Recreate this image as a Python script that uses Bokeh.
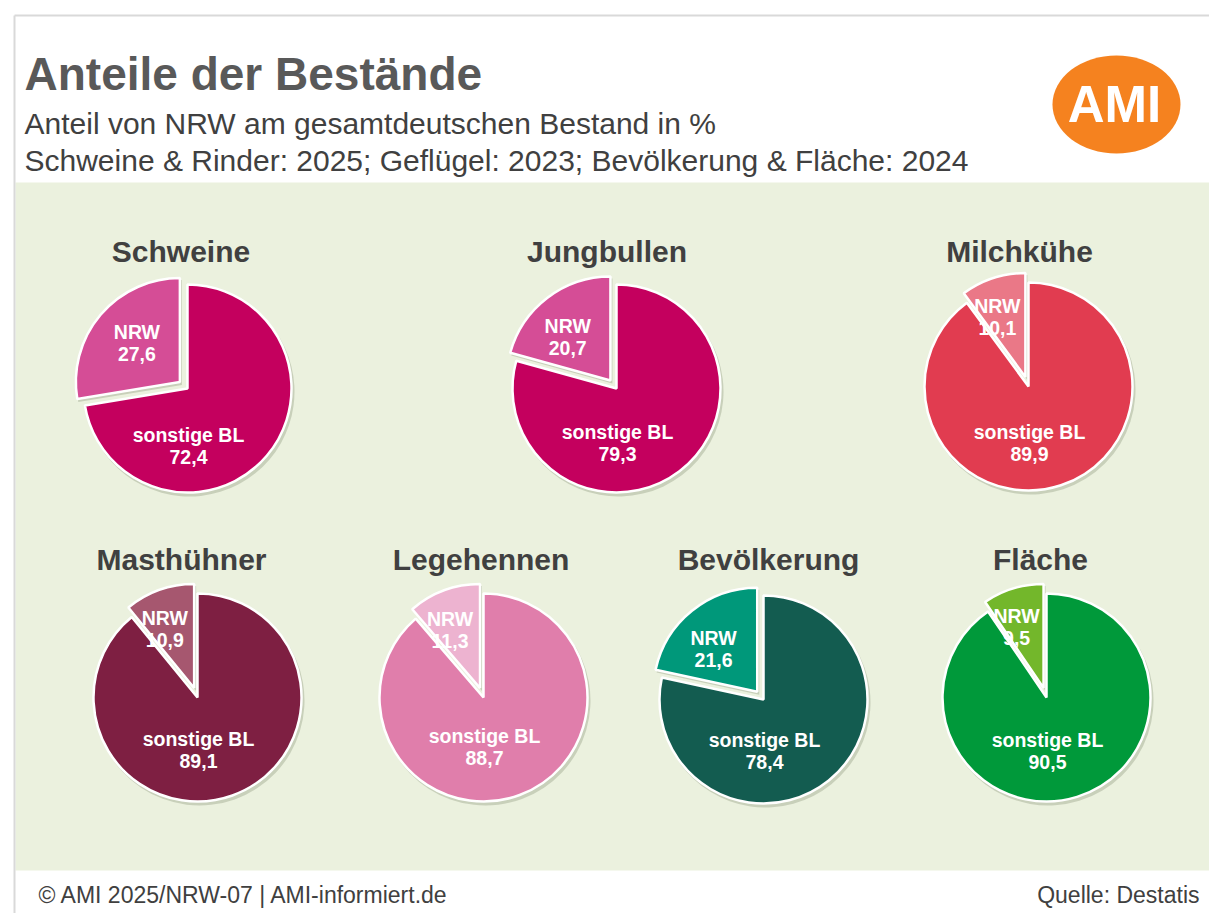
import math
from bokeh.plotting import figure
from bokeh.models import Range1d, ColumnDataSource, BoxAnnotation
from bokeh.core.properties import value
from bokeh.embed import file_html
from bokeh.resources import INLINE

# ---------------- data ----------------
categories = ["Schweine", "Jungbullen", "Milchkühe", "Masthühner", "Legehennen", "Bevölkerung", "Fläche"]
nrw_share = [27.6, 20.7, 10.1, 10.9, 11.3, 21.6, 9.5]
rest_share = [72.4, 79.3, 89.9, 89.1, 88.7, 78.4, 90.5]
slice_names = ["NRW", "sonstige BL"]

# ---------------- layout / style ----------------
W, H = 1209, 913
def sx(X):
    return X
def sy(Y):
    return H - Y

pie_cx = [187, 616, 1028, 197, 483, 763, 1046]
pie_cy = [388, 388, 386, 697, 697, 699, 697]
title_x = [180.5, 606.5, 1019, 181, 480.5, 768, 1040]
title_y = [251, 251, 251, 559, 559, 559, 559]
rest_lab_dy = [46, 43, 45, 41, 38, 40, 42]
radius = 104
explode = 10

main_colors = ["#C4005E", "#C4005E", "#E13C50", "#7E1F42", "#E07EAB", "#135C50", "#00993A"]
nrw_colors = ["#D54D96", "#D54D96", "#EA7887", "#A6576F", "#EDB3D0", "#00987A", "#73B72B"]

FONT = value("Liberation Sans")
TXT = "#404040"

p = figure(width=W, height=H, x_range=Range1d(0, W), y_range=Range1d(0, H),
           toolbar_location=None, output_backend="svg", min_border=0,
           background_fill_color="white", border_fill_color="white",
           outline_line_color=None)
p.axis.visible = False
p.grid.visible = False

# background panel
p.add_layout(BoxAnnotation(left=sx(15), right=sx(1209), top=sy(182), bottom=sy(870),
                           fill_color="#EBF1DE", fill_alpha=1, line_color=None, level="underlay"))
# frame lines
p.line(x=[sx(14), sx(1209)], y=[sy(15), sy(15)], line_color="#D9D9D9", line_width=2)
p.line(x=[sx(14), sx(14)], y=[sy(15), sy(913)], line_color="#D9D9D9", line_width=2)

# header
p.text(x=[sx(24)], y=[sy(73)], text=["Anteile der Bestände"], text_font=FONT,
       text_font_style="bold", text_font_size="46px", text_color="#595959",
       text_baseline="middle", text_align="left")
p.text(x=[sx(24), sx(24)], y=[sy(123), sy(160)],
       text=["Anteil von NRW am gesamtdeutschen Bestand in %",
             "Schweine & Rinder: 2025; Geflügel: 2023; Bevölkerung & Fläche: 2024"],
       text_font=FONT, text_font_size="30px", text_color=TXT,
       text_baseline="middle", text_align="left")

# logo
p.ellipse(x=[sx(1116)], y=[sy(104)], width=128, height=98, fill_color="#F5821F", line_color=None)
p.text(x=[sx(1114)], y=[sy(104)], text=["AMI"], text_font=FONT, text_font_style="bold",
       text_font_size="51px", text_color="white", text_align="center", text_baseline="middle")

# pies
rest = dict(x=[], y=[], s=[], e=[], c=[])
nrw = dict(x=[], y=[], s=[], e=[], c=[])
shadow = dict(x=[], y=[], s=[], e=[])
lab = dict(x=[], y=[], t=[])
for i, cat in enumerate(categories):
    cx, cy = sx(pie_cx[i]), sy(pie_cy[i])
    f = nrw_share[i] / (nrw_share[i] + rest_share[i])
    a0 = math.pi / 2
    a1 = a0 + 2 * math.pi * f
    a2 = a0 + 2 * math.pi
    bis = (a0 + a1) / 2
    ex, ey = cx + explode * math.cos(bis), cy + explode * math.sin(bis)
    rest["x"].append(cx); rest["y"].append(cy); rest["s"].append(a1); rest["e"].append(a2); rest["c"].append(main_colors[i])
    nrw["x"].append(ex); nrw["y"].append(ey); nrw["s"].append(a0); nrw["e"].append(a1); nrw["c"].append(nrw_colors[i])
    shadow["x"] += [cx + 2, ex + 2]; shadow["y"] += [cy - 3, ey - 3]
    shadow["s"] += [a1, a0]; shadow["e"] += [a2, a1]
    # NRW label
    ang = min(math.degrees(bis) + 6, 138)
    dist = 76 - 0.45 * (nrw_share[i] - 10)
    lx = cx + dist * math.cos(math.radians(ang))
    ly = cy + dist * math.sin(math.radians(ang))
    lab["x"] += [lx, lx]; lab["y"] += [ly + 11, ly - 11]
    lab["t"] += [slice_names[0], f"{nrw_share[i]:.1f}".replace(".", ",")]
    # rest label
    d = rest_lab_dy[i]
    lab["x"] += [cx + 1, cx + 1]; lab["y"] += [cy - d, cy - d - 22]
    lab["t"] += [slice_names[1], f"{rest_share[i]:.1f}".replace(".", ",")]

p.wedge(x="x", y="y", radius=radius + 1, start_angle="s", end_angle="e",
        source=ColumnDataSource(shadow), fill_color="#6E7A5C", fill_alpha=0.28, line_color=None)
p.wedge(x="x", y="y", radius=radius, start_angle="s", end_angle="e", fill_color="c",
        source=ColumnDataSource(rest), line_color="white", line_width=2.5)
p.wedge(x="x", y="y", radius=radius, start_angle="s", end_angle="e", fill_color="c",
        source=ColumnDataSource(nrw), line_color="white", line_width=2.5)
p.text(x="x", y="y", text="t", source=ColumnDataSource(lab), text_font=FONT,
       text_font_style="bold", text_font_size="19.5px", text_color="white",
       text_align="center", text_baseline="middle")

# pie titles
p.text(x=[sx(v) for v in title_x], y=[sy(v) for v in title_y], text=categories,
       text_font=FONT, text_font_style="bold", text_font_size="30px", text_color=TXT,
       text_align="center", text_baseline="middle")

# footer
p.text(x=[sx(38)], y=[sy(894)], text=["© AMI 2025/NRW-07 | AMI-informiert.de"], text_font=FONT,
       text_font_size="23px", text_color=TXT, text_align="left", text_baseline="middle")
p.text(x=[sx(1199)], y=[sy(894)], text=["Quelle: Destatis"], text_font=FONT,
       text_font_size="23px", text_color=TXT, text_align="right", text_baseline="middle")

open("out.html", "w").write(file_html(p, INLINE))
